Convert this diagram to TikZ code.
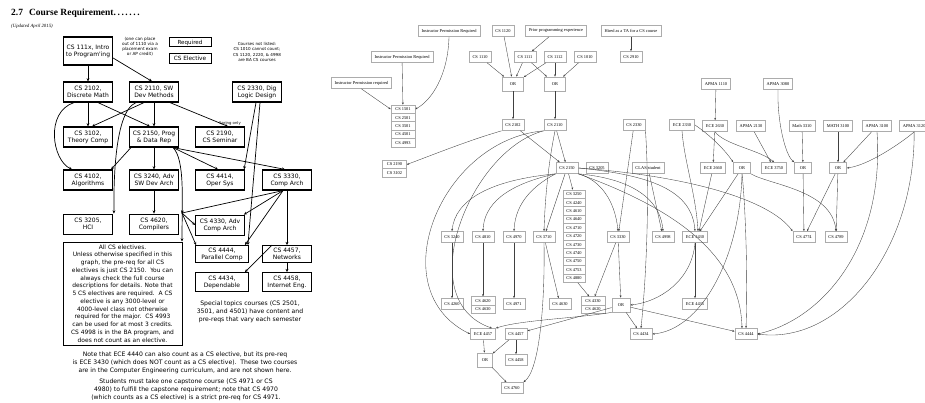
\documentclass[tikz,border=0pt]{standalone}
\usepackage{fontspec}
\setmainfont{Liberation Serif}
\newfontfamily\lsf{DejaVu Sans}
\usetikzlibrary{arrows.meta}
\begin{document}
\begin{tikzpicture}[x=1pt,y=-1pt,
 req/.style={draw, line width=1.2pt, fill=white, align=center, font=\lsf\fontsize{6}{7}\selectfont, inner sep=0pt, minimum width=49pt, minimum height=20pt},
 ele/.style={req, line width=0.8pt},
 note/.style={align=center, font=\lsf\fontsize{4.2}{5}\selectfont, inner sep=0pt},
 txt/.style={align=center, font=\lsf\fontsize{6.1}{8.3}\selectfont, inner sep=0pt},
 la/.style={-{Stealth[length=3.2pt,width=2.8pt]}, line width=0.7pt},
 gb/.style={draw=gray!65, line width=0.7pt, fill=white, font=\fontsize{4.4}{5}\selectfont, inner xsep=3.5pt, inner ysep=0pt, minimum height=11pt},
 gs/.style={gb, minimum width=24pt, minimum height=8.4pt, inner xsep=0pt},
 ga/.style={-{Stealth[length=2.3pt,width=1.9pt]}, line width=0.35pt, draw=black!75},
]
\useasboundingbox (0,0) rectangle (925,403);
\fill[white] (0,0) rectangle (925,403);
% ---------------- left: title and notes ----------------
\node[anchor=west, font=\bfseries\fontsize{9.5}{11}\selectfont, inner sep=0pt] (title) at (11,13) {2.7\hspace{6pt}Course Requirement.\,.\,.\,.\,.\,.\,.};
\node[anchor=west, font=\itshape\fontsize{4.8}{6}\selectfont, inner sep=0pt] (upd) at (11,26) {(Updated April 2015)};
\node[note] (place) at (140,47) {(one can place\\out of 1110 via a\\placement exam\\or AP credit)};
\node[req, minimum width=42pt, minimum height=9pt, line width=1pt, font=\lsf\fontsize{5.6}{6}\selectfont] (legreq) at (190,42.5) {Required};
\node[ele, minimum width=42pt, minimum height=10pt, font=\lsf\fontsize{5.8}{6}\selectfont] (legel) at (190,58) {CS Elective};
\node[note, font=\lsf\fontsize{4.1}{5.2}\selectfont] (notlisted) at (257,52) {Courses not listed:\\CS 1010 cannot count;\\CS 1120, 2220, \& 4998\\are BA CS courses};
% ---------------- left: course boxes ----------------
\node[req, minimum height=28pt] (a111) at (88,51) {CS 111x, Intro\\to Program'ing};
\node[req] (a2102) at (88,92) {CS 2102,\\Discrete Math};
\node[req] (a2110) at (154,92) {CS 2110, SW\\Dev Methods};
\node[req] (a2330) at (257,92) {CS 2330, Dig\\Logic Design};
\node[req] (a3102) at (88,137) {CS 3102,\\Theory Comp};
\node[req] (a2150) at (154,137) {CS 2150, Prog\\\& Data Rep};
\node[req] (a2190) at (220,137) {CS 2190,\\CS Seminar};
\node[req] (a4102) at (88,180) {CS 4102,\\Algorithms};
\node[req] (a3240) at (154,180) {CS 3240, Adv\\SW Dev Arch};
\node[req] (a4414) at (220,180) {CS 4414,\\Oper Sys};
\node[req] (a3330) at (287,180) {CS 3330,\\Comp Arch};
\node[ele] (a3205) at (88,224) {CS 3205,\\HCI};
\node[ele] (a4620) at (154,224) {CS 4620,\\Compilers};
\node[ele] (a4330) at (220,225) {CS 4330, Adv\\Comp Arch};
\node[ele, minimum width=53pt, minimum height=17pt] (a4444) at (222,254) {CS 4444,\\Parallel Comp};
\node[ele, minimum height=17pt] (a4457) at (287,254) {CS 4457,\\Networks};
\node[ele, minimum width=53pt, minimum height=19pt] (a4434) at (222,282) {CS 4434,\\Dependable};
\node[ele, minimum height=19pt] (a4458) at (287,282) {CS 4458,\\Internet Eng.};
\node[req, line width=1pt, minimum width=119pt, minimum height=103pt, font=\lsf\fontsize{5.95}{7.75}\selectfont] (allel) at (122.5,293.5) {All CS electives.\\Unless otherwise specified in this\\graph, the pre-req for all CS\\electives is just CS 2150.\ \ You can\\always check the full course\\descriptions for details. Note that\\5 CS electives are required.\ \ A CS\\elective is any 3000-level or\\4000-level class not otherwise\\required for the major.\ \ CS 4993\\can be used for at most 3 credits.\\CS 4998 is in the BA program, and\\does not count as an elective.};
\node[txt, font=\lsf\fontsize{6.1}{8}\selectfont] (special) at (250,312) {Special topics courses (CS 2501,\\3501, and 4501) have content and\\pre-reqs that vary each semester};
\node[txt] (ecenote) at (185,363) {Note that ECE 4440 can also count as a CS elective, but its pre-req\\is ECE 3430 (which does NOT count as a CS elective).\ \ These two courses\\are in the Computer Engineering curriculum, and are not shown here.};
\node[txt] (capnote) at (186,390) {Students must take one capstone course (CS 4971 or CS\\4980) to fulfill the capstone requirement; note that CS 4970\\(which counts as a CS elective) is a strict pre-req for CS 4971.};
\node[note, font=\lsf\fontsize{3.8}{4}\selectfont] (spring) at (230,123) {Spring only};
\coordinate (j1) at (182,213);
% ---------------- left: arrows ----------------
\draw[la] (a111) -- (a2102);
\draw[la] ([yshift=-7pt]a111.east) -- ([xshift=-2pt]a2110.north);
\draw[la] (a2102) -- (a3102);
\draw[la] ([xshift=10pt]a2102.south) -- ([xshift=-4pt]a2150.north);
\draw[la] ([xshift=-10pt]a2110.south) -- ([xshift=4pt]a3102.north);
\draw[la] (a2110) -- (a2150);
\draw[la] ([xshift=16pt]a2110.south) -- ([xshift=8pt]a2190.north);
\draw[la] ([xshift=-14pt]a2102.south) .. controls (45,112) and (52,160) .. ([xshift=-16pt]a4102.north);
\draw[la] ([xshift=-18pt]a2110.south) .. controls (112,112) and (114,200) .. ([xshift=1pt]a3205.north east);
\draw[la] ([xshift=2pt]a2150.south west) -- ([xshift=-2pt]a4102.north east);
\draw[la] (a2150) -- (a3240);
\draw[la] (a3240) -- (a4620);
\draw[la] ([xshift=-6pt]a2150.south east) -- ([xshift=-2pt]a4414.north);
\draw[la] ([xshift=-6pt]a2150.south east) -- ([xshift=-2pt]a3330.north);
\draw[la] ([xshift=-6pt]a2150.south east) .. controls (185,160) and (182,200) .. ([xshift=-0.5pt]allel.north east);
\draw[la] ([xshift=-1pt]a2330.south) -- ([xshift=-1pt]a4414.north east);
\draw[la] ([xshift=3pt]a2330.south) -- ([xshift=-1pt]a4444.north east);
\draw[la] ([xshift=-4pt]a3330.south) -- (j1) -- ([xshift=3pt]a4620.north east);
\draw[la] (j1) -- (a4330.west);
\draw[la] (j1) -- ([xshift=1pt]a4444.north west);
\draw[la] ([xshift=-4pt]a3330.south) -- ([xshift=-1pt]a4330.north east);
\draw[la] ([xshift=-4pt]a3330.south) -- ([xshift=-4pt]a4444.north east);
\draw[la] (a3330) -- (a4457);
\draw[la] (a4457) -- (a4458);
\draw[la] ([xshift=-15pt]a4457.north) -- ([xshift=-4pt]a4434.north east);
% ---------------- right: nodes ----------------
\node[gb] (ip1) at (449,31) {Instructor Permission Required};
\node[gb] (c1120) at (503,31) {CS 1120};
\node[gb] (ppe) at (556,31) {Prior programming experience};
\node[gb] (hta) at (631,31) {Hired as a TA for a CS course};
\node[gb] (ip2) at (402,57) {Instructor Permission Required};
\begin{scope}
\clip (325,70) rectangle (400,100);
\node[gb, anchor=east] (ip3) at (392,83) {Instructor Permission required};
\end{scope}
\node[gb] (c1110) at (480,57) {CS 1110};
\node[gb] (c1111) at (525,57) {CS 1111};
\node[gb] (c1112) at (555,57) {CS 1112};
\node[gb] (c1010) at (585,57) {CS 1010};
\node[gb] (c2910) at (631,57) {CS 2910};
\node[gb, minimum width=21pt, minimum height=14pt] (or1) at (513,84) {OR};
\node[gb, minimum width=21pt, minimum height=14pt] (or2) at (555,84) {OR};
\node[gs] (s1a) at (403,109.2) {CS 1501};
\node[gs] (s1b) at (403,117.6) {CS 2501};
\node[gs] (s1c) at (403,126.0) {CS 3501};
\node[gs] (s1d) at (403,134.4) {CS 4501};
\node[gs] (s1e) at (403,142.8) {CS 4993};
\node[gb] (c2102) at (513,125) {CS 2102};
\node[gb] (c2110) at (555,125) {CS 2110};
\node[gb] (c2330r) at (634,125) {CS 2330};
\node[gb] (ece2330) at (682,125) {ECE 2330};
\node[gb] (apma1110) at (716,84) {APMA 1110};
\node[gb] (apma3080) at (778,84) {APMA 3080};
\node[gb] (ece2630) at (715,126) {ECE 2630};
\node[gb] (apma2130) at (751,126) {APMA 2130};
\node[gb] (math3310) at (802,126) {Math 3310};
\node[gb] (math3100) at (838,126) {MATH 3100};
\node[gb] (apma3100) at (877,126) {APMA 3100};
\begin{scope}
\clip (895,110) rectangle (925,140);
\node[gb, anchor=west] (apma3120) at (899,126) {APMA 3120};
\end{scope}
\node[gs] (s2a) at (394.5,164.5) {CS 2190};
\node[gs] (s2b) at (394.5,172.9) {CS 3102};
\node[gb] (c2150) at (567,168) {CS 2150};
\node[gb] (c3x) at (597,168) {CS 3205};
\node[gb] (clas) at (648,168) {CLAS student};
\node[gb] (ece2660) at (713,168) {ECE 2660};
\node[gb, minimum width=17pt] (or3) at (742,168) {OR};
\node[gb] (ece3750) at (774,168) {ECE 3750};
\node[gb, minimum width=17pt] (or4) at (803,168) {OR};
\node[gb, minimum width=17pt] (or5) at (838,168) {OR};
\foreach \lab [count=\i from 0] in {CS 3250,CS 4240,CS 4610,CS 4640,CS 4710,CS 4720,CS 4730,CS 4740,CS 4750,CS 4753,CS 4880}
  \node[gs, minimum width=22pt] (s3r\i) at (574,194.2+8.4*\i) {\lab};
\node[gb] (c3240) at (452,237) {CS 3240};
\node[gb] (c4810) at (483,237) {CS 4810};
\node[gb] (c4970) at (514,237) {CS 4970};
\node[gb] (c3710) at (544,237) {CS 3710};
\node[gb] (c3330) at (618,237) {CS 3330};
\node[gb] (c4998) at (663,237) {CS 4998};
\node[gb] (ece3430) at (695,237) {ECE 3430};
\node[gb] (c4774) at (804,237) {CS 4774};
\node[gb] (c4789) at (836,237) {CS 4789};
\node[gb] (c4260) at (452,304) {CS 4260};
\node[gs] (s4a) at (483,301) {CS 4620};
\node[gs] (s4b) at (483,309.4) {CS 4630};
\node[gb] (c4971) at (514,304) {CS 4971};
\node[gb] (c4630x) at (560,304) {CS 4630};
\node[gs] (s5a) at (593,301) {CS 4330};
\node[gs] (s5b) at (593,309.4) {CS 4620};
\node[gb, minimum width=18pt, minimum height=14pt] (or6) at (621,305) {OR};
\node[gb] (ece4435) at (695,304) {ECE 4435};
\node[gb] (ece4457) at (483,334) {ECE 4457};
\node[gb] (c4457) at (516,334) {CS 4457};
\node[gb] (c4434) at (641,334) {CS 4434};
\node[gb] (c4444) at (746,334) {CS 4444};
\node[gb, minimum width=15pt, minimum height=14pt] (or7) at (485,360) {OR};
\node[gb] (c4458) at (516,360) {CS 4458};
\node[gb] (c4760) at (512,388) {CS 4760};
% ---------------- right: edges ----------------
\draw[ga] (ip1.south) .. controls (448,75) and (432,100) .. (s1a.east);
\draw[ga] (ip2) -- (s1a);
\draw[ga] (ip3.south) -- (s1a.west);
\draw[ga] (c1120) -- (or1);
\draw[ga] (c1110) -- (or1);
\draw[ga] (c1111) -- (or1);
\draw[ga] (c1111) -- (or2);
\draw[ga] (c1112) -- (or1);
\draw[ga] (c1112) -- (or2);
\draw[ga] (c1010) -- (or2);
\draw[ga] (ppe) -- (c1111);
\draw[ga] (hta) -- (c2910);
\draw[ga] (or1) -- (c2102);
\draw[ga] (or2) -- (c2110);
\draw[ga] (c2102.south west) .. controls (470,140) and (440,152) .. (s2a.east);
\draw[ga] (c2102) -- (c2150);
\draw[ga] (c2110) -- (c2150);
\draw[ga] (c2110.south) .. controls (548,165) and (545,200) .. (c3710.north);
\draw[ga] (c2110.south west) .. controls (440,140) and (380,290) .. (ece4457.west);
\draw[ga] (c2110.south west) .. controls (470,150) and (410,300) .. ([xshift=-4pt]ece4457.north east);
\draw[ga] (c2150.south west) .. controls (490,180) and (455,200) .. (c3240.north);
\draw[ga] (c2150.south west) .. controls (505,185) and (484,205) .. (c4810.north);
\draw[ga] (c2150.south west) .. controls (525,190) and (515,210) .. (c4970.north);
\draw[ga] (c2150) -- (c3710);
\draw[ga] (c2150) -- (s3r0);
\draw[ga] (c2150.south east) .. controls (600,180) and (615,200) .. (c3330.north);
\draw[ga] (c2150.south east) .. controls (625,178) and (660,195) .. (c4998.north);
\draw[ga] (c2150.east) .. controls (650,175) and (692,190) .. (ece3430.north);
\draw[ga] (c2150.east) .. controls (690,176) and (770,200) .. (c4774.north west);
\draw[ga] (c2150.south east) .. controls (665,205) and (740,250) .. ([xshift=-4pt]c4444.north);
\draw[ga] (clas) -- (c4998);
\draw[ga] (c2330r) -- (c3330);
\draw[ga] (c2330r.south east) .. controls (650,200) and (646,280) .. (c4434.north);
\draw[ga] (ece2330.south) .. controls (684,160) and (696,195) .. ([xshift=3pt]ece3430.north);
\draw[ga] (ece2330.east) .. controls (710,135) and (725,150) .. (or3.north west);
\draw[ga] (apma1110) -- (ece2630);
\draw[ga] (ece2630) -- (ece2660);
\draw[ga] (ece2630.south) .. controls (725,145) and (760,150) .. (ece3750.north);
\draw[ga] (apma2130) -- (ece3750);
\draw[ga] (apma3080.south) .. controls (777,120) and (785,155) .. (or4.north west);
\draw[ga] (math3310) -- (or4);
\draw[ga] (math3100) -- (or5);
\draw[ga] (apma3100) -- (or5);
\draw[ga] (apma3120.south) .. controls (905,140) and (870,165) .. (or5.east);
\draw[ga] (ece2660) -- ([xshift=4pt]ece3430.north);
\draw[ga] (or3) -- ([xshift=5pt]ece3430.north);
\draw[ga] (or3.south) .. controls (740,260) and (700,330) .. (c4434.east);
\draw[ga] (or3.south) .. controls (745,200) and (748,270) .. (c4444.north);
\draw[ga] (or3.south east) .. controls (770,185) and (832,190) .. (c4789.north);
\draw[ga] (or4) -- (c4774);
\draw[ga] (or5) -- ([xshift=3pt]c4774.north);
\draw[ga] (or5) -- (c4789);
\draw[ga] (apma3100.south) .. controls (885,250) and (820,320) .. (c4444.east);
\draw[ga] (apma3120.south) .. controls (915,250) and (840,345) .. (c4444.east);
\draw[ga] (c3240) -- (c4260);
\draw[ga] (c4810) -- (s4a);
\draw[ga] (c4970) -- (c4971);
\draw[ga] (c3710) -- (c4630x);
\draw[ga] (c3710.south) .. controls (545,300) and (540,370) .. (c4760.north east);
\draw[ga] (s3r10) -- (s5a);
\draw[ga] (c3330) -- (s5a);
\draw[ga] (c3330) -- (or6);
\draw[ga] (ece3430) -- (ece4435);
\draw[ga] (ece3430.south) .. controls (692,280) and (660,302) .. (or6.east);
\draw[ga] (or6) -- (c4434);
\draw[ga] (or6) -- (c4444);
\draw[ga] (or6) -- (c4457);
\draw[ga] (or6.south west) .. controls (580,318) and (520,320) .. (ece4457.north east);
\draw[ga] (ece4457) -- (or7);
\draw[ga] (c4457) -- (or7);
\draw[ga] (c4457) -- (c4458);
\draw[ga] (or7) -- (c4760);
\end{tikzpicture}
\end{document}
